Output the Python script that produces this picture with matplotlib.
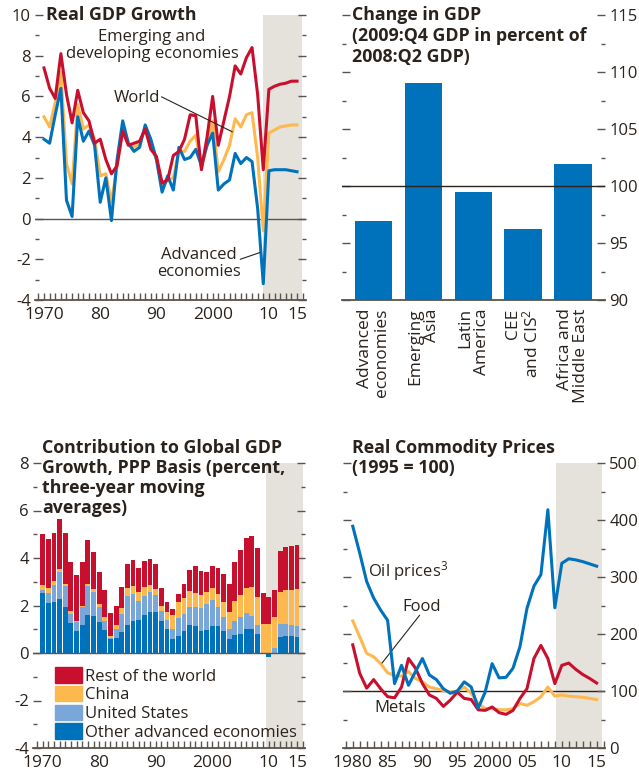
import numpy as np
import matplotlib
matplotlib.use("Agg")
import matplotlib.pyplot as plt
from matplotlib.ticker import MultipleLocator, FixedLocator
from matplotlib.patches import Patch

plt.rcParams['font.family'] = ['Open Sans', 'DejaVu Sans']
plt.rcParams['mathtext.default'] = 'regular'
plt.rcParams['axes.unicode_minus'] = False

# -----------------------------
# Data
# -----------------------------
years = list(range(1970, 2016))

# Real GDP growth (percent)
gdp_emde = [7.4, 6.4, 5.9, 8.1, 6.1, 4.7, 6.3, 5.2, 4.8, 3.7,
            3.9, 2.9, 2.2, 2.6, 4.3, 3.6, 3.7, 3.8, 4.4, 3.4,
            3.05, 1.75, 1.9, 3.1, 3.3, 3.9, 5.1, 5.05, 2.4, 4.0,
            6.0, 3.6, 4.8, 6.0, 7.5, 7.1, 7.9, 8.4, 6.1, 2.4,
            6.35, 6.5, 6.6, 6.65, 6.75, 6.75]
gdp_world = [5.0, 4.5, 5.7, 7.2, 2.7, 1.7, 5.6, 4.4, 4.6, 3.9,
             2.1, 2.2, 0.8, 2.6, 4.6, 3.7, 3.5, 3.7, 4.4, 3.6,
             2.9, 1.5, 1.9, 2.0, 3.3, 3.3, 3.8, 4.1, 2.5, 3.6,
             4.8, 2.3, 2.9, 3.6, 4.9, 4.5, 5.1, 5.2, 3.0, -0.6,
             4.2, 4.35, 4.5, 4.55, 4.6, 4.6]
gdp_adv = [3.9, 3.7, 5.1, 6.4, 0.9, 0.1, 5.0, 3.8, 4.3, 3.6,
           0.8, 2.0, -0.1, 2.9, 4.8, 3.7, 3.3, 3.5, 4.6, 3.9,
           2.9, 1.3, 2.1, 1.4, 3.5, 2.9, 3.0, 3.4, 2.6, 3.6,
           4.2, 1.4, 1.7, 1.9, 3.2, 2.7, 3.0, 2.8, 0.5, -3.2,
           2.35, 2.4, 2.4, 2.4, 2.35, 2.3]

# Change in GDP (2009:Q4 in percent of 2008:Q2)
regions = ["Advanced\neconomies", "Emerging\nAsia", "Latin\nAmerica",
           "CEE\nand CIS$^2$", "Africa and\nMiddle East"]
gdp_change = [96.9, 109.0, 99.5, 96.2, 101.9]

# Contribution to global GDP growth (PPP, 3-yr moving averages)
contrib_other_adv = [2.54, 2.12, 2.16, 2.29, 1.95, 1.28, 0.94, 1.19, 1.61, 1.57,
                     1.32, 0.98, 0.58, 0.65, 0.90, 1.19, 1.36, 1.40, 1.61, 1.74,
                     1.74, 1.36, 1.02, 0.60, 0.73, 0.94, 1.19, 1.15, 0.94, 0.98,
                     1.12, 1.15, 0.94, 0.60, 0.77, 0.81, 1.02, 1.02, 0.81, 0.00,
                     -0.15, 0.02, 0.69, 0.73, 0.73, 0.69]
contrib_us = [0.13, 0.42, 0.72, 1.13, 0.89, 0.38, 0.38, 0.76, 1.23, 1.01,
              0.60, 0.38, 0.05, 0.37, 0.76, 1.22, 1.14, 0.80, 0.80, 0.84,
              0.72, 0.42, 0.38, 0.42, 0.76, 0.72, 0.76, 0.80, 0.97, 1.10,
              1.10, 0.80, 0.59, 0.42, 0.59, 0.72, 0.68, 0.55, 0.38, 0.00,
              0.00, 0.20, 0.55, 0.51, 0.46, 0.46]
contrib_china = [0.19, 0.20, 0.17, 0.13, 0.08, 0.12, 0.04, 0.04, 0.08, 0.13,
                 0.14, 0.17, 0.10, 0.17, 0.25, 0.34, 0.34, 0.38, 0.38, 0.30,
                 0.25, 0.21, 0.34, 0.59, 0.67, 0.67, 0.67, 0.59, 0.55, 0.50,
                 0.53, 0.55, 0.63, 0.72, 0.84, 0.93, 1.05, 1.22, 1.18, 1.24,
                 1.24, 1.31, 1.34, 1.43, 1.48, 1.56]
contrib_rest = [2.16, 2.07, 2.02, 2.11, 2.15, 2.04, 1.94, 1.83, 1.85, 1.53,
                1.36, 1.14, 0.97, 0.80, 0.88, 0.98, 1.09, 1.01, 1.10, 1.09,
                1.05, 0.76, 0.42, 0.26, 0.34, 0.59, 0.89, 1.14, 1.01, 0.84,
                0.93, 1.09, 1.18, 1.18, 1.65, 1.89, 2.11, 2.15, 2.07, 1.30,
                1.13, 1.14, 1.73, 1.81, 1.85, 1.85]

# Real commodity prices (1995 = 100)
years_cp = list(range(1980, 2016))
oil = [389, 342, 292, 263, 242, 224, 113, 145, 110, 134,
       157, 128, 120, 104, 96, 100, 116, 107, 70, 98,
       148, 123, 124, 140, 178, 245, 284, 304, 418, 246,
       324, 332, 330, 327, 323, 319]
food = [223, 195, 166, 160, 148, 132, 127, 126, 134, 122,
        116, 107, 104, 101, 98, 100, 107, 96, 78, 69,
        69, 67, 67, 69, 78, 75, 81, 90, 107, 91,
        93, 91, 90, 89, 87, 85]
metals = [181, 131, 105, 120, 104, 90, 88, 107, 157, 140,
          113, 93, 87, 73, 84, 98, 87, 85, 67, 66,
          72, 62, 59, 66, 87, 104, 157, 180, 157, 113,
          145, 149, 138, 129, 122, 114]

# -----------------------------
# Style
# -----------------------------
RED = "#C8102E"
YELLOW = "#FDB94D"
BLUE = "#0072BC"
LBLUE = "#7AA7DA"
SHADE = "#E5E1DB"
TXT = "#2A231D"
AXC = "#5A544E"
TITLE_FS = 12.8
NOTE_FS = 12

W, H = 639, 771
fig = plt.figure(figsize=(W / 100, H / 100), dpi=100)


def box(x0, y0, x1, y1):
    # pixel box -> figure fraction
    return [x0 / W, 1 - y1 / H, (x1 - x0) / W, (y1 - y0) / H]


def ftext(x, y, s, **kw):
    fig.text(x / W, 1 - y / H, s, color=TXT, **kw)


def style_axes(ax, label_side="left", bottom_ticks=True):
    for s in ["top", "left", "right"]:
        ax.spines[s].set_visible(False)
    ax.spines["bottom"].set_color(AXC)
    ax.spines["bottom"].set_linewidth(1.3)
    ax.tick_params(axis="y", which="both", left=True, right=True, direction="in",
                   color=AXC, width=1.0, labelcolor=TXT, labelsize=12,
                   labelleft=(label_side == "left"), labelright=(label_side == "right"))
    ax.tick_params(axis="y", which="major", length=6, pad=3)
    ax.tick_params(axis="y", which="minor", length=3)
    if bottom_ticks:
        ax.tick_params(axis="x", which="both", direction="in", length=5,
                       color=AXC, width=1.0, labelcolor=TXT, labelsize=12.5, pad=5)
    ax.set_facecolor("none")


# -----------------------------
# Panel 1: Real GDP Growth
# -----------------------------
ax1 = fig.add_axes(box(35, 15, 306, 300))
ax1.axvspan(2009, 2015.8, color=SHADE, lw=0, zorder=0)
ax1.axhline(0, color=AXC, lw=1.0, zorder=1)
ax1.plot(years, gdp_emde, color=RED, lw=2.2, zorder=3)
ax1.plot(years, gdp_world, color=YELLOW, lw=2.2, zorder=2)
ax1.plot(years, gdp_adv, color=BLUE, lw=2.2, zorder=2.5)
ax1.set_xlim(1968.4, 2016.6)
ax1.set_ylim(-4, 10)
ax1.yaxis.set_major_locator(MultipleLocator(2))
ax1.yaxis.set_minor_locator(MultipleLocator(1))
ax1.xaxis.set_major_locator(FixedLocator([1970, 1980, 1990, 2000, 2010, 2015]))
ax1.xaxis.set_minor_locator(MultipleLocator(1))
ax1.set_xticklabels(["1970", "80", "90", "2000", "10", "15"])
style_axes(ax1, "left")

ax1.text(1989.2, 8.5, "Emerging and\ndeveloping economies", ha="center", va="center",
         fontsize=NOTE_FS, color=TXT, linespacing=1.1)
ax1.text(1990.6, 5.9, "World", ha="right", va="center", fontsize=NOTE_FS, color=TXT)
ax1.annotate("", xy=(2003.5, 4.26), xytext=(1990.9, 5.98),
             arrowprops=dict(arrowstyle="-", color=TXT, lw=0.8,
                             shrinkA=0, shrinkB=0))
ax1.text(1997.6, -2.2, "Advanced\neconomies", ha="center", va="center",
         fontsize=NOTE_FS, color=TXT, linespacing=1.1)
ax1.annotate("", xy=(2008.4, -1.67), xytext=(2004.9, -2.0),
             arrowprops=dict(arrowstyle="-", color=TXT, lw=0.8,
                             shrinkA=0, shrinkB=0))
ftext(46, 6, "Real GDP Growth", fontsize=TITLE_FS, fontweight="bold", va="top")

# -----------------------------
# Panel 2: Change in GDP
# -----------------------------
ax2 = fig.add_axes(box(342, 15, 605, 300))
xpos = np.arange(len(regions))
ax2.bar(xpos, np.array(gdp_change) - 90, bottom=90, width=0.75, color=BLUE, zorder=2)
ax2.axhline(100, color=TXT, lw=1.0, zorder=3)
ax2.set_xlim(-0.63, 4.64)
ax2.set_ylim(90, 115)
ax2.yaxis.set_major_locator(MultipleLocator(5))
ax2.yaxis.set_minor_locator(MultipleLocator(2.5))
style_axes(ax2, "right", bottom_ticks=False)
ax2.set_xticks(xpos)
ax2.set_xticklabels(regions, rotation=90, ha="center", va="top",
                    multialignment="right", linespacing=1.05)
ax2.tick_params(axis="x", length=0, labelsize=12.5, labelcolor=TXT, pad=6)
ftext(352, 6, "Change in GDP\n(2009:Q4 GDP in percent of\n2008:Q2 GDP)", fontsize=TITLE_FS,
      fontweight="bold", va="top", linespacing=1.2)

# -----------------------------
# Panel 3: Contribution to Global GDP Growth
# -----------------------------
ax3 = fig.add_axes(box(33, 463, 305, 748))
ax3.axvspan(2009.55, 2016.0, color=SHADE, lw=0, zorder=0)
pos_bottom = np.zeros(len(years))
neg_bottom = np.zeros(len(years))
for vals, col in [(contrib_other_adv, BLUE), (contrib_us, LBLUE),
                  (contrib_china, YELLOW), (contrib_rest, RED)]:
    v = np.array(vals)
    b = np.where(v >= 0, pos_bottom, neg_bottom)
    ax3.bar(years, v, bottom=b, width=0.85, color=col, lw=0, zorder=2)
    pos_bottom += np.clip(v, 0, None)
    neg_bottom += np.clip(v, None, 0)
ax3.axhline(0, color=AXC, lw=1.0, zorder=3)
ax3.set_xlim(1968.3, 2016.4)
ax3.set_ylim(-4, 8)
ax3.yaxis.set_major_locator(MultipleLocator(2))
ax3.yaxis.set_minor_locator(MultipleLocator(1))
ax3.xaxis.set_major_locator(FixedLocator([1970, 1980, 1990, 2000, 2010, 2015]))
ax3.xaxis.set_minor_locator(MultipleLocator(1))
ax3.set_xticklabels(["1970", "80", "90", "2000", "10", "15"])
style_axes(ax3, "left")
handles = [Patch(color=RED), Patch(color=YELLOW), Patch(color=LBLUE), Patch(color=BLUE)]
ax3.legend(handles, ["Rest of the world", "China", "United States",
                     "Other advanced economies"],
           loc="lower left", bbox_to_anchor=(0.045, -0.01), frameon=False,
           fontsize=NOTE_FS, handlelength=1.6, handleheight=1.05, handletextpad=0.2,
           labelspacing=0.08, borderaxespad=0.2, labelcolor=TXT)
ftext(42, 439, "Contribution to Global GDP\nGrowth, PPP Basis (percent,\nthree-year moving\naverages)",
      fontsize=TITLE_FS, fontweight="bold", va="top", linespacing=1.15)

# -----------------------------
# Panel 4: Real Commodity Prices
# -----------------------------
ax4 = fig.add_axes(box(343, 463, 605, 748))
ax4.axvspan(2009.2, 2015.8, color=SHADE, lw=0, zorder=0)
ax4.axhline(100, color=TXT, lw=1.0, zorder=1)
ax4.plot(years_cp, food, color=YELLOW, lw=2.2, zorder=2)
ax4.plot(years_cp, metals, color=RED, lw=2.2, zorder=3)
ax4.plot(years_cp, oil, color=BLUE, lw=2.2, zorder=4)
ax4.set_xlim(1978.6, 2016.2)
ax4.set_ylim(0, 500)
ax4.yaxis.set_major_locator(MultipleLocator(100))
ax4.yaxis.set_minor_locator(MultipleLocator(50))
ax4.xaxis.set_major_locator(FixedLocator(list(range(1980, 2016, 5))))
ax4.xaxis.set_minor_locator(MultipleLocator(1))
ax4.set_xticklabels(["1980", "85", "90", "95", "2000", "05", "10", "15"])
style_axes(ax4, "right")
ax4.text(1982.2, 310, "Oil prices$^3$", ha="left", va="center", fontsize=NOTE_FS, color=TXT)
ax4.text(1989.9, 247, "Food", ha="center", va="center", fontsize=NOTE_FS, color=TXT)
ax4.annotate("", xy=(1984.2, 149), xytext=(1989.6, 233),
             arrowprops=dict(arrowstyle="-", color=TXT, lw=0.8,
                             shrinkA=0, shrinkB=0))
ax4.text(1983.1, 70, "Metals", ha="left", va="center", fontsize=NOTE_FS, color=TXT)
ftext(352, 439, "Real Commodity Prices\n(1995 = 100)", fontsize=TITLE_FS,
      fontweight="bold", va="top", linespacing=1.15)

plt.savefig("out.png", dpi=100)
